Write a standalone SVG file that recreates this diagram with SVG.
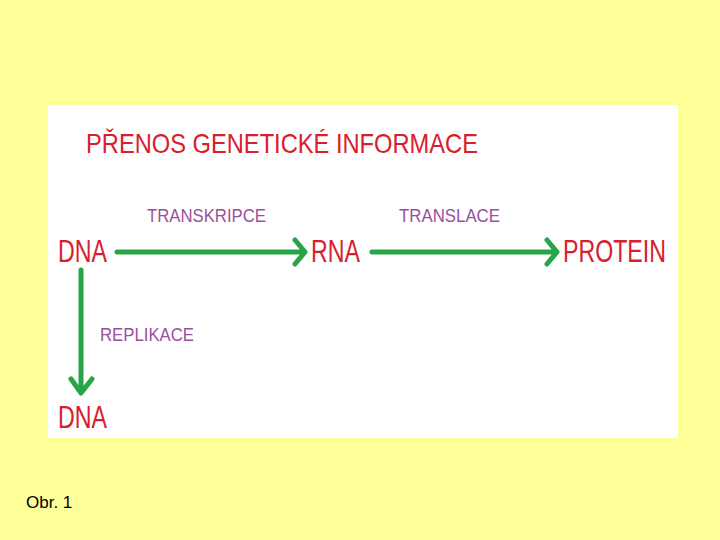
<svg xmlns="http://www.w3.org/2000/svg" width="720" height="540" viewBox="0 0 720 540">
<style>
.red{fill:#d8202c;font-family:"Liberation Sans",Arial,sans-serif;}
.pur{fill:#9a4f9e;font-family:"Liberation Sans",Arial,sans-serif;font-size:19px;}
.arr{stroke:#27a548;stroke-width:5;fill:none;stroke-linecap:round;stroke-linejoin:round;}
</style>
<rect x="0" y="0" width="720" height="540" fill="#ffff99"/>
<rect x="48" y="105" width="630" height="333" fill="#ffffff"/>
<text class="red" x="86" y="153" font-size="28" textLength="392" lengthAdjust="spacingAndGlyphs">PŘENOS GENETICKÉ INFORMACE</text>
<g id="label-transkripce"><text class="pur" x="147" y="222" textLength="119" lengthAdjust="spacingAndGlyphs">TRANSKRIPCE</text></g>
<g id="label-translace"><text class="pur" x="399" y="222" textLength="101" lengthAdjust="spacingAndGlyphs">TRANSLACE</text></g>
<g id="label-replikace"><text class="pur" x="100" y="341" textLength="94" lengthAdjust="spacingAndGlyphs">REPLIKACE</text></g>
<g id="node-dna1"><text class="red" x="58" y="262" font-size="32" textLength="49" lengthAdjust="spacingAndGlyphs">DNA</text></g>
<g id="node-rna"><text class="red" x="311" y="262" font-size="32" textLength="49" lengthAdjust="spacingAndGlyphs">RNA</text></g>
<g id="node-protein"><text class="red" x="563" y="262" font-size="32" textLength="103" lengthAdjust="spacingAndGlyphs">PROTEIN</text></g>
<g id="node-dna2"><text class="red" x="58" y="428" font-size="32" textLength="49" lengthAdjust="spacingAndGlyphs">DNA</text></g>
<g id="connectors">
<path class="arr" d="M117 252 H304 M295 240 L305 252 L295 264"/>
<path class="arr" d="M372 252 H556 M547 240 L557 252 L547 264"/>
<path class="arr" d="M81 270 V392 M71 379 L81 393 L92 379"/>
</g>
<text x="26" y="508" font-family="'Liberation Sans',Arial,sans-serif" font-size="17" fill="#000">Obr. 1</text>
</svg>
